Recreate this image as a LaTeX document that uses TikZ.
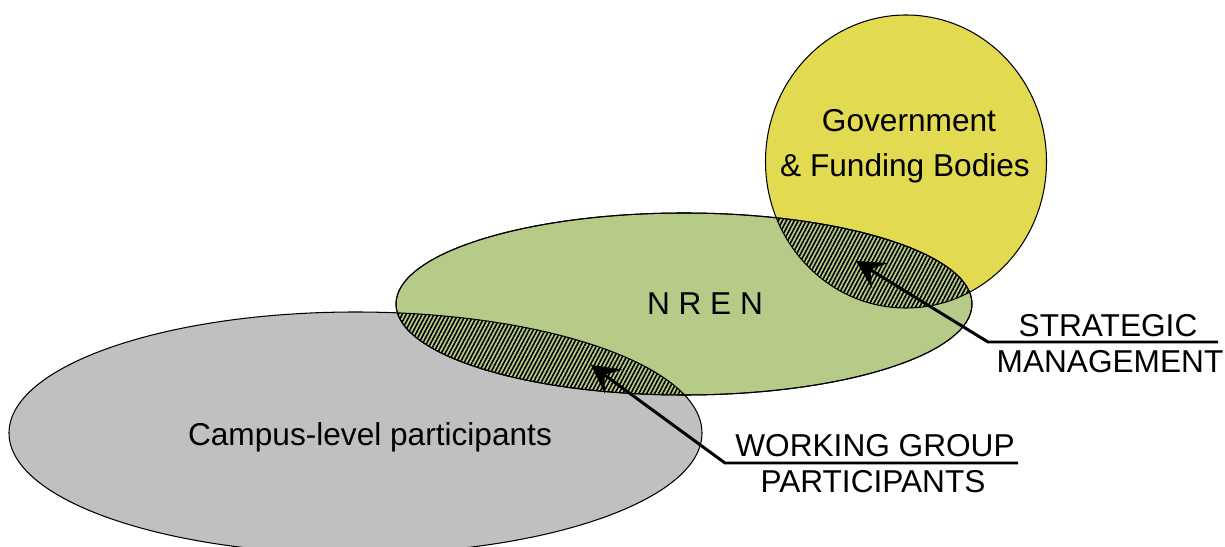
\documentclass[tikz,border=0pt]{standalone}
\usepackage{fontspec}
\setmainfont{Liberation Sans}
\usepackage{xcolor}
\usetikzlibrary{arrows.meta,patterns.meta}

\definecolor{campusgray}{RGB}{192,192,192}
\definecolor{nrengreen}{RGB}{183,203,136}
\definecolor{govyellow}{RGB}{226,218,80}

\tikzset{
  venn/.style={draw=black, line width=0.6pt},
  hatched/.style={pattern={Lines[angle=62, distance=2pt, line width=0.9pt]}, pattern color=black},
  callout/.style={line width=1.7pt, -{Stealth[length=16pt, width=17pt, inset=6.5pt]}},
  lbl/.style={anchor=base, inner sep=0pt, font=\fontsize{18}{21}\selectfont},
}

\begin{document}
\begin{tikzpicture}[x=0.02cm, y=-0.02cm]
    \clip (0,0) rectangle (1225,547);

    % Sets
    \filldraw[venn, fill=campusgray] (355.5,433) ellipse [x radius=346.5, y radius=121];
    \filldraw[venn, fill=govyellow] (906,161.5) ellipse [x radius=140.5, y radius=146.5];
    \filldraw[venn, fill=nrengreen] (684,304) ellipse [x radius=288, y radius=91];

    % Overlaps
    \begin{scope}
      \clip (684,304) ellipse [x radius=288, y radius=91];
      \fill[hatched] (355.5,433) ellipse [x radius=346.5, y radius=121];
      \fill[hatched] (906,161.5) ellipse [x radius=140.5, y radius=146.5];
      \draw[venn] (355.5,433) ellipse [x radius=346.5, y radius=121];
      \draw[venn] (906,161.5) ellipse [x radius=140.5, y radius=146.5];
    \end{scope}
    \draw[venn] (684,304) ellipse [x radius=288, y radius=91];

    % Labels
    \node[lbl] (campus) at (370,446) {Campus-level participants};
    \node[lbl] (nren) at (705,315) {N R E N};
    \node[lbl] (gov) at (909,132) {Government};
    \node[lbl] (funding) at (905,177) {\& Funding Bodies};
    \node[lbl] (strat) at (1108,337) {STRATEGIC};
    \node[lbl] (mgmt) at (1110,373) {MANAGEMENT};
    \node[lbl] (wg) at (875,457) {WORKING GROUP};
    \node[lbl] (wgp) at (873,493) {PARTICIPANTS};

    % Callouts
    \coordinate (stratEnd) at (1218,342);
    \coordinate (stratKnee) at (988,342);
    \coordinate (stratTip) at (856,261);
    \coordinate (wgEnd) at (1018,463);
    \coordinate (wgKnee) at (725,463);
    \coordinate (wgTip) at (591,365);

    \draw[callout] (stratEnd) -- (stratKnee) -- (stratTip);
    \draw[callout] (wgEnd) -- (wgKnee) -- (wgTip);
\end{tikzpicture}
\end{document}
